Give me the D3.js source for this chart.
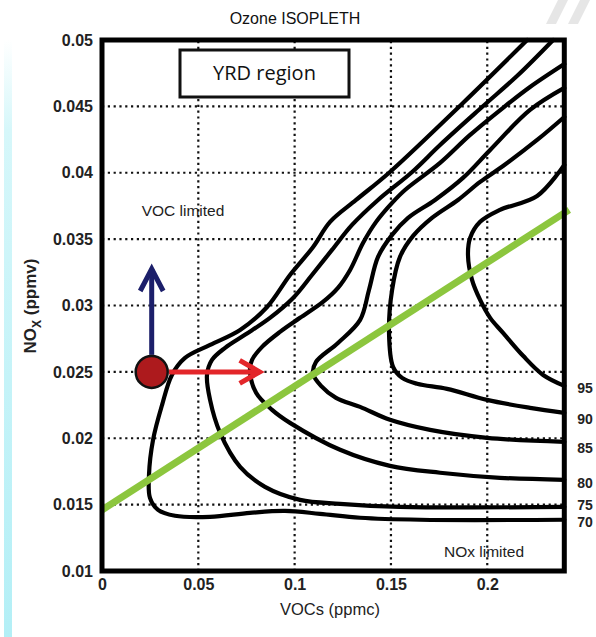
<!DOCTYPE html>
<html>
<head>
<meta charset="utf-8">
<script src="https://cdn.jsdelivr.net/npm/d3@7"></script>
<style>
  body { margin: 0; background: #fff; }
  #chart svg { display: block; }
</style>
</head>
<body>
<div id="chart"></div>
<script>
// axis ranges and ticks
const xDomain = [0, 0.24];
const yDomain = [0.01, 0.05];
const xTicks = [0, 0.05, 0.1, 0.15, 0.2];
const xTickLabels = ['0', '0.05', '0.1', '0.15', '0.2'];
const yTicks = [0.01, 0.015, 0.02, 0.025, 0.03, 0.035, 0.04, 0.045, 0.05];
const yTickLabels = ['0.01', '0.015', '0.02', '0.025', '0.03', '0.035', '0.04', '0.045', '0.05'];

// ozone isopleths [VOCs ppmc, NOx ppmv]
const levels = [70, 75, 80, 85, 90, 95];
const iso70 = [[0.2207,0.05],[0.1874,0.04526],[0.1495,0.04006],[0.1319,0.03795],[0.1184,0.0363],[0.1096,0.03441],[0.0976,0.0323],[0.0857,0.02989],[0.0717,0.02816],[0.0561,0.02703],[0.0431,0.02605],[0.0363,0.02477],[0.0312,0.02252],[0.0265,0.01988],[0.0244,0.01724],[0.0249,0.01551],[0.0291,0.01461],[0.0379,0.01416],[0.0561,0.01408],[0.0768,0.01438],[0.095,0.01453],[0.1132,0.01431],[0.134,0.01401],[0.1651,0.01386],[0.24,0.01386]];
const iso75 = [[0.2342,0.05],[0.216,0.04736],[0.1973,0.04495],[0.1755,0.04209],[0.161,0.04006],[0.1433,0.03795],[0.1298,0.03607],[0.1194,0.03419],[0.109,0.0323],[0.0992,0.03057],[0.0872,0.02907],[0.0742,0.02779],[0.0639,0.02681],[0.0571,0.0259],[0.0545,0.02477],[0.0561,0.02289],[0.0613,0.02041],[0.0717,0.01785],[0.0846,0.01634],[0.1028,0.01536],[0.1236,0.01506],[0.1547,0.01483],[0.24,0.01483]];
const iso80 = [[0.24,0.04819],[0.2222,0.04646],[0.2087,0.04495],[0.1911,0.04285],[0.1755,0.04074],[0.1573,0.0387],[0.1506,0.03773],[0.1423,0.0363],[0.1355,0.03471],[0.1288,0.03268],[0.1225,0.03133],[0.1147,0.03027],[0.1028,0.02907],[0.0924,0.02801],[0.0831,0.02688],[0.0779,0.0259],[0.0768,0.02515],[0.08,0.02342],[0.0883,0.02214],[0.0976,0.02116],[0.1236,0.01913],[0.1495,0.01792],[0.1755,0.0174],[0.2066,0.01702],[0.24,0.01687]];
const iso85 = [[0.24,0.04639],[0.2222,0.04473],[0.2015,0.04172],[0.1874,0.03961],[0.1729,0.03795],[0.1589,0.0366],[0.1506,0.03532],[0.1433,0.03366],[0.1386,0.03117],[0.134,0.02892],[0.1225,0.02718],[0.1111,0.02575],[0.1096,0.02485],[0.1137,0.02395],[0.1215,0.02304],[0.134,0.02236],[0.1495,0.02139],[0.1703,0.02063],[0.1999,0.02003],[0.24,0.01973]];
const iso90 = [[0.24,0.0442],[0.2259,0.04247],[0.2082,0.04051],[0.1963,0.03931],[0.1848,0.03795],[0.1713,0.0366],[0.1615,0.03524],[0.1547,0.03366],[0.1506,0.03117],[0.149,0.02794],[0.1511,0.02538],[0.1558,0.02455],[0.1636,0.0241],[0.1791,0.02372],[0.1999,0.02289],[0.2222,0.02229],[0.24,0.02191]];
const iso95 = [[0.24,0.04059],[0.2259,0.03825],[0.2066,0.0372],[0.1963,0.0363],[0.1911,0.03509],[0.19,0.03381],[0.1921,0.03193],[0.1963,0.03042],[0.2015,0.02907],[0.2082,0.02794],[0.2186,0.02621],[0.229,0.02477],[0.24,0.02395]];
const isopleths = [iso70, iso75, iso80, iso85, iso90, iso95];

// ridge line and the YRD base point with its two arrows
const ridgeLine = [[0, 0.0146], [0.2425, 0.0372]];
const basePoint = [0.0258, 0.025];
const vocArrowEnd = [0.0829, 0.025];
const noxArrowEnd = [0.0258, 0.0329];

const width = 596, height = 637;
const font = '"Liberation Sans", Arial, sans-serif';
const labelNudge = [2, -2, 3, 6, 6, 2]; // px, keeps 70/75 labels apart

const svg = d3.select('#chart').append('svg')
  .attr('width', width)
  .attr('height', height);

// slide background bits
const grad = svg.append('defs').append('linearGradient')
  .attr('id', 'strip').attr('x1', 0).attr('y1', 0).attr('x2', 0).attr('y2', 1);
grad.append('stop').attr('offset', '0%').attr('stop-color', '#ffffff');
grad.append('stop').attr('offset', '15%').attr('stop-color', '#d6f7fa');
grad.append('stop').attr('offset', '100%').attr('stop-color', '#b3eff6');
svg.append('rect').attr('x', 4).attr('y', 40).attr('width', 8).attr('height', 597)
  .attr('fill', 'url(#strip)');
[[548, 0], [570, 0]].forEach(([sx, sy]) => {
  svg.append('path')
    .attr('d', `M${sx + 10},${sy} L${sx + 20},${sy} L${sx + 8},${sy + 24} L${sx - 2},${sy + 24} Z`)
    .attr('fill', '#e6e6e6');
});

const x = d3.scaleLinear().domain(xDomain).range([102, 564.3]);
const y = d3.scaleLinear().domain(yDomain).range([571, 40]);

// dotted grid
const grid = svg.append('g').attr('class', 'grid');
grid.selectAll('line.gx')
  .data(xTicks.filter(d => d > 0))
  .join('line')
  .attr('class', 'gx')
  .attr('x1', d => x(d)).attr('x2', d => x(d))
  .attr('y1', y(yDomain[0])).attr('y2', y(yDomain[1]));
grid.selectAll('line.gy')
  .data(yTicks.filter(d => d > yDomain[0] && d < yDomain[1]))
  .join('line')
  .attr('class', 'gy')
  .attr('x1', x(xDomain[0])).attr('x2', x(xDomain[1]))
  .attr('y1', d => y(d)).attr('y2', d => y(d));
grid.selectAll('line')
  .attr('stroke', '#111')
  .attr('stroke-width', 2.2)
  .attr('stroke-dasharray', '2.2,3.6');

// isopleths
const line = d3.line()
  .x(d => x(d[0]))
  .y(d => y(d[1]))
  .curve(d3.curveCatmullRom.alpha(0.5));

svg.append('g').attr('class', 'isopleths')
  .selectAll('path')
  .data(isopleths)
  .join('path')
  .attr('d', line)
  .attr('fill', 'none')
  .attr('stroke', '#000')
  .attr('stroke-width', 4.2)
  .attr('stroke-linejoin', 'round')
  .attr('stroke-linecap', 'round');

// ridge line
svg.append('line')
  .attr('x1', x(ridgeLine[0][0])).attr('y1', y(ridgeLine[0][1]))
  .attr('x2', x(ridgeLine[1][0])).attr('y2', y(ridgeLine[1][1]))
  .attr('stroke', '#8cc63e')
  .attr('stroke-width', 7);

// arrows from the base point
const cx = x(basePoint[0]), cy = y(basePoint[1]);
const r = 17;

const noxTip = y(noxArrowEnd[1]);
svg.append('line')
  .attr('x1', cx).attr('y1', cy - r).attr('x2', cx).attr('y2', noxTip + 2)
  .attr('stroke', '#1c1f6a').attr('stroke-width', 5);
svg.append('path')
  .attr('d', `M${cx - 11.5},${noxTip + 24} L${cx},${noxTip + 2} L${cx + 11.5},${noxTip + 24}`)
  .attr('fill', 'none').attr('stroke', '#1c1f6a').attr('stroke-width', 5)
  .attr('stroke-linejoin', 'miter');

const vocTip = x(vocArrowEnd[0]);
svg.append('line')
  .attr('x1', cx + r).attr('y1', cy).attr('x2', vocTip - 2).attr('y2', cy)
  .attr('stroke', '#e3262a').attr('stroke-width', 5);
svg.append('path')
  .attr('d', `M${vocTip - 22},${cy - 11.5} L${vocTip - 2},${cy} L${vocTip - 22},${cy + 11.5}`)
  .attr('fill', 'none').attr('stroke', '#e3262a').attr('stroke-width', 5)
  .attr('stroke-linejoin', 'miter');

svg.append('circle')
  .attr('cx', cx).attr('cy', cy).attr('r', r - 1)
  .attr('fill', '#ad1a1d')
  .attr('stroke', '#111')
  .attr('stroke-width', 2.5);

// frame
svg.append('rect')
  .attr('x', x(xDomain[0])).attr('y', y(yDomain[1]))
  .attr('width', x(xDomain[1]) - x(xDomain[0]))
  .attr('height', y(yDomain[0]) - y(yDomain[1]))
  .attr('fill', 'none')
  .attr('stroke', '#000')
  .attr('stroke-width', 5);

// axes
const xAxis = g => g
  .attr('transform', `translate(0, ${y(yDomain[0])})`)
  .call(d3.axisBottom(x).tickValues(xTicks).tickFormat((d, i) => xTickLabels[i]).tickSize(0).tickPadding(8))
  .call(c => c.select('.domain').remove());
const yAxis = g => g
  .attr('transform', `translate(${x(xDomain[0])}, 0)`)
  .call(d3.axisLeft(y).tickValues(yTicks).tickFormat((d, i) => yTickLabels[i]).tickSize(0).tickPadding(9))
  .call(c => c.select('.domain').remove());

svg.append('g').call(xAxis);
svg.append('g').call(yAxis);
svg.selectAll('.tick text')
  .attr('font-family', font)
  .attr('font-size', 16)
  .attr('font-weight', 'bold')
  .attr('fill', '#222');

// isopleth labels at the right edge
svg.append('g').selectAll('text')
  .data(isopleths)
  .join('text')
  .attr('x', x(xDomain[1]) + 13)
  .attr('y', (d, i) => y(d[d.length - 1][1]) + labelNudge[i])
  .attr('dy', '0.35em')
  .text((d, i) => levels[i])
  .attr('font-family', font)
  .attr('font-size', 14)
  .attr('font-weight', 'bold')
  .attr('fill', '#222');

// region box
svg.append('rect')
  .attr('x', 180).attr('y', 50).attr('width', 169).attr('height', 47)
  .attr('fill', '#fff')
  .attr('stroke', '#111')
  .attr('stroke-width', 3);
svg.append('text')
  .attr('x', 264.5).attr('y', 73).attr('dy', '0.35em')
  .attr('text-anchor', 'middle')
  .attr('font-family', '"Open Sans", sans-serif')
  .attr('font-size', 20)
  .attr('fill', '#111')
  .text('YRD region');

// region notes
svg.append('text')
  .attr('x', 183).attr('y', 211).attr('dy', '0.35em')
  .attr('text-anchor', 'middle')
  .attr('font-family', font).attr('font-size', 15.5).attr('fill', '#222')
  .text('VOC limited');
svg.append('text')
  .attr('x', 484).attr('y', 552).attr('dy', '0.35em')
  .attr('text-anchor', 'middle')
  .attr('font-family', font).attr('font-size', 15.5).attr('fill', '#222')
  .text('NOx limited');

// titles
svg.append('text')
  .attr('x', 295).attr('y', 18).attr('dy', '0.35em')
  .attr('text-anchor', 'middle')
  .attr('font-family', font).attr('font-size', 16).attr('fill', '#111')
  .text('Ozone ISOPLETH');

svg.append('text')
  .attr('x', 330).attr('y', 609).attr('dy', '0.35em')
  .attr('text-anchor', 'middle')
  .attr('font-family', font).attr('font-size', 16.5).attr('fill', '#222')
  .text('VOCs (ppmc)');

const yTitle = svg.append('text')
  .attr('transform', 'translate(30, 306) rotate(-90)')
  .attr('dy', '0.35em')
  .attr('text-anchor', 'middle')
  .attr('font-family', font).attr('font-size', 17).attr('font-weight', 'bold').attr('fill', '#222');
yTitle.append('tspan').text('NO');
yTitle.append('tspan').attr('font-size', 12).attr('dy', '0.45em').text('X');
yTitle.append('tspan').attr('dy', '-0.3em').text(' (ppmv)');
</script>
</body>
</html>
